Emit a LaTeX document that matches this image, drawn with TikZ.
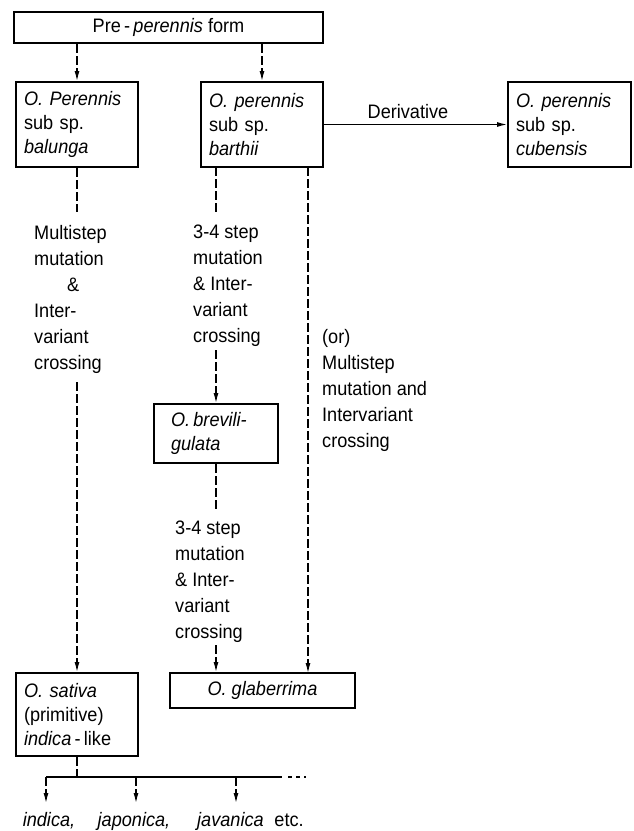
\documentclass[tikz,border=0pt]{standalone}
\usepackage{fontspec}
\setmainfont{Liberation Sans}[FakeStretch=0.93]
\usetikzlibrary{arrows.meta}
\begin{document}
\begin{tikzpicture}[x=1pt,y=-1pt,
  box/.style={draw,line width=2pt,inner sep=0pt,font=\fontsize{19.5}{24}\selectfont},
  lbl/.style={inner sep=0pt,align=left,anchor=north west,font=\fontsize{19.5}{26}\selectfont},
  txt/.style={inner sep=0pt,font=\fontsize{19.5}{24}\selectfont},
  dsh/.style={line width=1.2pt,dash pattern=on 9pt off 3pt},
  sld/.style={line width=1.2pt},
  arr/.style={-{Latex[length=10pt,width=5pt]}},
]
\useasboundingbox (0,0) rectangle (633,831);

% boxes
\node[box,minimum width=309pt,minimum height=31pt] (pre) at (168.5,27.5) {Pre\,-\,\textit{perennis} form};
\node[box,text width=106pt,inner xsep=8pt,align=left,minimum height=85pt] (bal) at (77,124.5)
  {\textit{O. Perennis}\\sub sp.\\\textit{balunga}};
\node[box,text width=106pt,inner xsep=8pt,align=left,minimum height=85pt] (bar) at (262,124.5)
  {\textit{O. perennis}\\sub sp.\\\textit{barthii}};
\node[box,text width=107pt,inner xsep=8pt,align=left,minimum height=85pt] (cub) at (569.5,124.5)
  {\textit{O. perennis}\\sub sp.\\\textit{cubensis}};
\node[box,text width=90pt,inner xsep=17pt,align=left,minimum height=59pt] (brev) at (216,433.5)
  {\textit{O.\,brevili-}\\\textit{gulata}};
\node[box,text width=106pt,inner xsep=8pt,align=left,minimum height=83pt] (sat) at (77,714.5)
  {\textit{O. sativa}\\(primitive)\\\textit{indica}\,-\,like};
\node[box,minimum width=185pt,minimum height=35pt] (gla) at (262.5,690.5) {\textit{O. glaberrima}};

% free texts
\node[lbl] (t1) at (34,225) {Multistep\\mutation\\\hspace*{33pt}\&\\Inter-\\variant\\crossing};
\node[lbl] (t2) at (193,225) {3-4 step\\mutation\\\& Inter-\\variant\\crossing};
\node[lbl] (t3) at (322,329) {(or)\\Multistep\\mutation and\\Intervariant\\crossing};
\node[lbl] (t4) at (175,521) {3-4 step\\mutation\\\& Inter-\\variant\\crossing};
\node[txt] (der) at (408,112) {Derivative};

% coordinates for interrupted dashed lines
\coordinate (a1) at (77,212);
\coordinate (a2) at (77,382);
\coordinate (b1) at (216,167);
\coordinate (b2) at (216,212);
\coordinate (b3) at (216,350);
\coordinate (c1) at (216,510);
\coordinate (c2) at (216,645);
\coordinate (r1) at (308,167);
\coordinate (r2) at (308,673);
\coordinate (h0) at (77,777);
\coordinate (hL) at (46,777);
\coordinate (hM) at (136,777);
\coordinate (hJ) at (236,777);
\coordinate (hR) at (282,777);
\coordinate (hE) at (306,777);

% connectors
\draw[dsh,arr] (bal.north |- pre.south) -- (bal.north);
\draw[dsh,arr] (bar.north |- pre.south) -- (bar.north);
\draw[sld,arr] (bar.east) -- (cub.west);

\draw[dsh] (bal.south) -- (a1);
\draw[dsh,arr] (a2) -- (sat.north);

\draw[dsh] (b1) -- (b2);
\draw[dsh,arr] (b3) -- (brev.north);
\draw[dsh] (brev.south) -- (c1);
\draw[dsh,arr] (c2) -- (c2 |- gla.north);
\draw[dsh,arr] (r1) -- (r2);

\draw[dsh] (sat.south) -- (h0);
\draw[sld] (hL) -- (hR);
\draw[line width=1.2pt,dash pattern=on 4pt off 4pt] (hR) ++(6,0) -- (hE);

\node[txt] (ind) at (49,821) {\textit{indica,}};
\node[txt] (jap) at (134,821) {\textit{japonica,}};
\node[txt,anchor=west] (jav) at (197,821) {\textit{javanica}\hspace{0.55em}etc.};

\draw[dsh,arr] (hL) -- (hL |- 0,803);
\draw[dsh,arr] (hM) -- (hM |- 0,803);
\draw[dsh,arr] (hJ) -- (hJ |- 0,803);
\end{tikzpicture}
\end{document}
